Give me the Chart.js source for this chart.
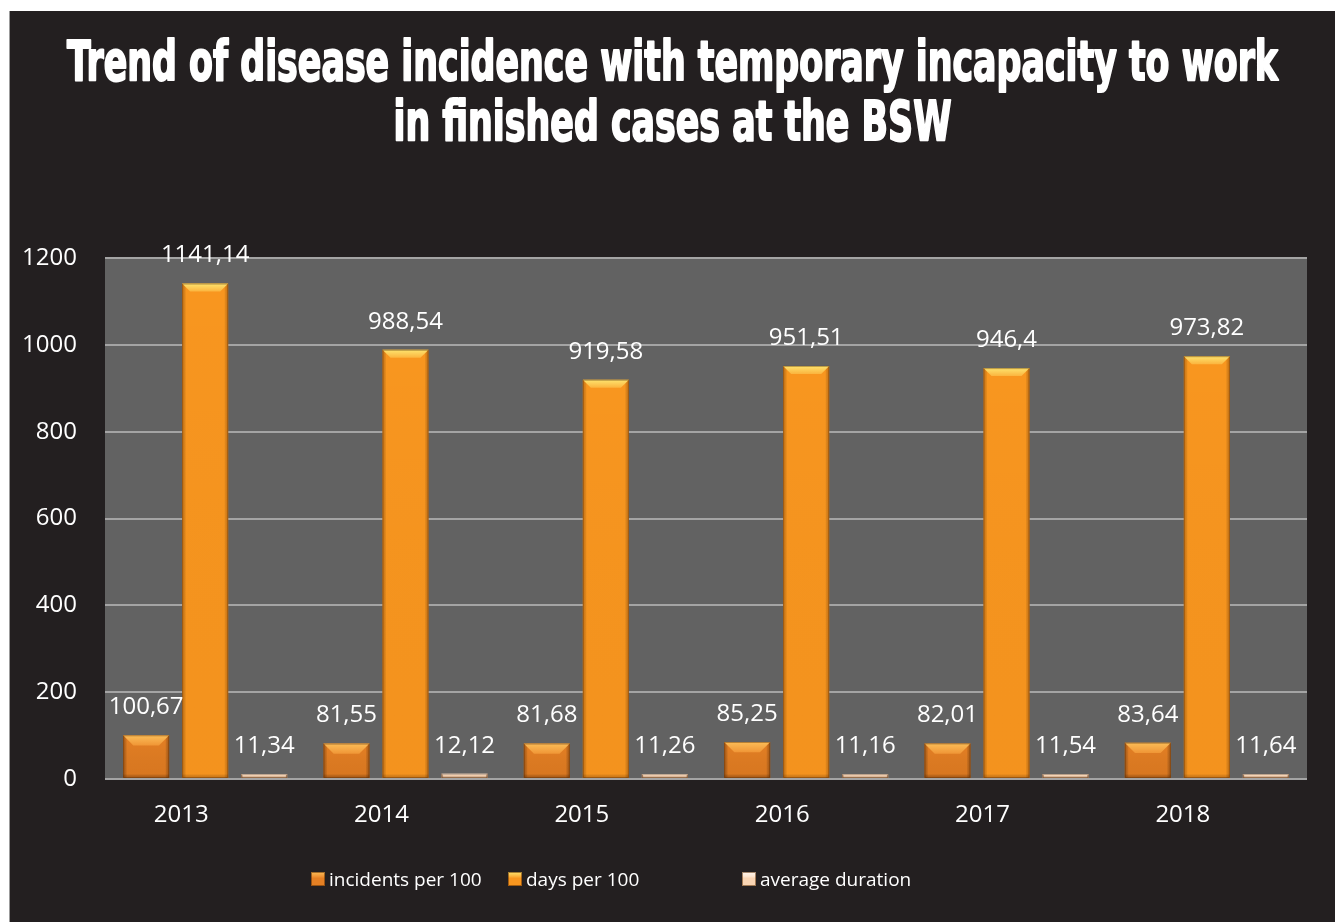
<!DOCTYPE html>
<html>
<head>
<meta charset="utf-8">
<title>Trend of disease incidence with temporary incapacity to work</title>
<script src="https://cdn.jsdelivr.net/npm/chart.js@4/dist/chart.umd.min.js"></script>
<style>
  html, body { margin: 0; background: #fff; }
  #frame {
    position: absolute; left: 9px; top: 11px; width: 1325px; height: 911px;
    background: #231f20; border-left: 1px solid #9b9b9b; overflow: hidden;
  }
  #frame canvas { position: absolute; left: 0; top: 0; }
  #legend {
    position: absolute; left: 301px; top: 855px; display: flex; align-items: center;
    font: 19px "Open Sans", sans-serif; color: #fff; white-space: nowrap;
  }
  #legend .key { display: flex; align-items: center; }
  #legend .key i {
    display: inline-block; width: 14px; height: 14px; margin-right: 4px;
    box-shadow: inset 0 0 0 1px rgba(90, 45, 5, 0.55);
  }
</style>
</head>
<body>
<div id="frame">
  <canvas id="trend" width="1325" height="911"></canvas>
  <div id="legend"></div>
</div>
<script>
  // Sickness figures per year, finished cases
  var years = ["2013", "2014", "2015", "2016", "2017", "2018"];
  var incidentsPer100 = [100.67, 81.55, 81.68, 85.25, 82.01, 83.64];
  var daysPer100 = [1141.14, 988.54, 919.58, 951.51, 946.4, 973.82];
  var averageDuration = [11.34, 12.12, 11.26, 11.16, 11.54, 11.64];
  var seriesNames = ["incidents per 100", "days per 100", "average duration"];

  var yMin = 0, yMax = 1200, yStep = 200;
  var titleLines = [
    "Trend of disease incidence with temporary incapacity to work",
    "in finished cases at the BSW"
  ];

  // bevel shading for each series (base fill, top facet, edge shade)
  var looks = [
    { base: "#e58024", top0: "#fbbd58", top1: "#f09636", edge: "rgba(120,55,5,0.45)", foot: "rgba(130,55,0,0.12)", depth: 11 },
    { base: "#f8961f", top0: "#fde46f", top1: "#fbb43e", edge: "rgba(160,80,10,0.4)", foot: "rgba(150,70,0,0.04)", depth: 8 },
    { base: "#f9d4b3", top0: "#fff6ee", top1: "#fde6d2", edge: "rgba(160,100,60,0.45)", foot: "rgba(150,90,40,0.1)", depth: 3 }
  ];
  var legendSlots = [197, 234, null];

  function fmt(v) { return String(v).replace(".", ","); }

  function drawBevel(ctx, x0, x1, y0, y1, look) {
    var w = x1 - x0, h = y1 - y0;
    if (h <= 0) return;
    var d = Math.max(1, Math.min(look.depth, h / 3.2, w / 4.5));
    var e = Math.min(4, w / 10, h / 2);
    var g;
    // darker toward the foot of the bar
    g = ctx.createLinearGradient(0, y0, 0, y1);
    g.addColorStop(0, "rgba(0,0,0,0)");
    g.addColorStop(1, look.foot);
    ctx.fillStyle = g;
    ctx.fillRect(x0, y0, w, h);
    // side shading
    g = ctx.createLinearGradient(x0, 0, x0 + e, 0);
    g.addColorStop(0, look.edge); g.addColorStop(1, "rgba(0,0,0,0)");
    ctx.fillStyle = g; ctx.fillRect(x0, y0, e, h);
    g = ctx.createLinearGradient(x1, 0, x1 - e, 0);
    g.addColorStop(0, look.edge); g.addColorStop(1, "rgba(0,0,0,0)");
    ctx.fillStyle = g; ctx.fillRect(x1 - e, y0, e, h);
    g = ctx.createLinearGradient(0, y1, 0, y1 - e);
    g.addColorStop(0, look.edge); g.addColorStop(1, "rgba(0,0,0,0)");
    ctx.fillStyle = g; ctx.fillRect(x0, y1 - e, w, e);
    // lit top facet
    g = ctx.createLinearGradient(0, y0, 0, y0 + d);
    g.addColorStop(0, look.top0); g.addColorStop(1, look.top1);
    ctx.fillStyle = g;
    ctx.beginPath();
    ctx.moveTo(x0, y0); ctx.lineTo(x1, y0);
    ctx.lineTo(x1 - d, y0 + d); ctx.lineTo(x0 + d, y0 + d);
    ctx.closePath(); ctx.fill();
    ctx.strokeStyle = "rgba(80,40,5,0.4)";
    ctx.lineWidth = 1;
    ctx.strokeRect(x0 + 0.5, y0 + 0.5, w - 1, h - 1);
  }

  var backdrop = {
    id: "backdrop",
    beforeDraw: function (chart) {
      var ctx = chart.ctx, a = chart.chartArea;
      ctx.save();
      ctx.fillStyle = "#626262";
      ctx.fillRect(a.left, a.top, a.right - a.left, a.bottom - a.top);

      // condensed heavy title, squeezed to the frame width
      ctx.font = "bold 56px 'Liberation Sans Narrow', 'DejaVu Sans Condensed', 'Liberation Sans', sans-serif";
      ctx.fillStyle = "#fff";
      ctx.strokeStyle = "#fff";
      ctx.lineWidth = 2;
      ctx.lineJoin = "round";
      ctx.textAlign = "center";
      ctx.textBaseline = "alphabetic";
      var sx = 1211 / ctx.measureText(titleLines[0]).width;
      var cx = chart.width / 2;
      var baselines = [69, 129];
      for (var i = 0; i < titleLines.length; i++) {
        ctx.save();
        ctx.translate(cx, baselines[i]);
        ctx.scale(sx, 1);
        ctx.strokeText(titleLines[i], 0, 0);
        ctx.fillText(titleLines[i], 0, 0);
        ctx.restore();
      }
      ctx.restore();
    }
  };

  var bevelAndValues = {
    id: "bevelAndValues",
    afterDatasetsDraw: function (chart) {
      var ctx = chart.ctx;
      ctx.save();
      chart.data.datasets.forEach(function (ds, di) {
        var meta = chart.getDatasetMeta(di);
        meta.data.forEach(function (bar) {
          var p = bar.getProps(["x", "y", "base", "width"], true);
          drawBevel(ctx, p.x - p.width / 2, p.x + p.width / 2, p.y, p.base, looks[di]);
        });
      });
      ctx.font = "24px 'Open Sans', sans-serif";
      ctx.fillStyle = "#fff";
      ctx.textAlign = "center";
      ctx.textBaseline = "middle";
      chart.data.datasets.forEach(function (ds, di) {
        var meta = chart.getDatasetMeta(di);
        meta.data.forEach(function (bar, i) {
          var p = bar.getProps(["x", "y"], true);
          ctx.fillText(fmt(ds.data[i]), p.x, p.y - 28);
        });
      });
      ctx.restore();
    }
  };

  var seriesData = [incidentsPer100, daysPer100, averageDuration];
  var datasets = seriesData.map(function (vals, i) {
    return {
      label: seriesNames[i],
      data: vals,
      backgroundColor: looks[i].base,
      borderWidth: 0,
      categoryPercentage: 0.884,
      barPercentage: 0.78
    };
  });

  new Chart(document.getElementById("trend"), {
    type: "bar",
    data: { labels: years, datasets: datasets },
    options: {
      responsive: false,
      animation: false,
      layout: { padding: { top: 247, right: 28, bottom: 0, left: 0 } },
      plugins: { legend: { display: false }, title: { display: false }, tooltip: { enabled: false } },
      scales: {
        x: {
          grid: { display: false, drawTicks: false },
          border: { display: false },
          ticks: { color: "#fff", font: { family: "'Open Sans', sans-serif", size: 24 }, padding: 22, labelOffset: -24 },
          afterFit: function (scale) { scale.height = 143; }
        },
        y: {
          min: yMin, max: yMax,
          grid: { color: "#a4a4a4", lineWidth: 2, drawTicks: false },
          border: { display: false },
          ticks: {
            stepSize: yStep, color: "#fff", font: { family: "'Open Sans', sans-serif", size: 24 }, padding: 28,
            callback: function (v) { return String(v); }
          },
          afterFit: function (scale) { scale.width = 95; }
        }
      }
    },
    plugins: [backdrop, bevelAndValues]
  });

  // legend row under the axis
  var legendEl = document.getElementById("legend");
  seriesNames.forEach(function (name, i) {
    var key = document.createElement("span");
    key.className = "key";
    if (legendSlots[i]) key.style.width = legendSlots[i] + "px";
    var sw = document.createElement("i");
    sw.style.background = "linear-gradient(to bottom, " + looks[i].top0 + " 0%, " + looks[i].top1 + " 30%, " + looks[i].base + " 45%, " + looks[i].base + " 100%)";
    key.appendChild(sw);
    key.appendChild(document.createTextNode(name));
    legendEl.appendChild(key);
  });
</script>
</body>
</html>
